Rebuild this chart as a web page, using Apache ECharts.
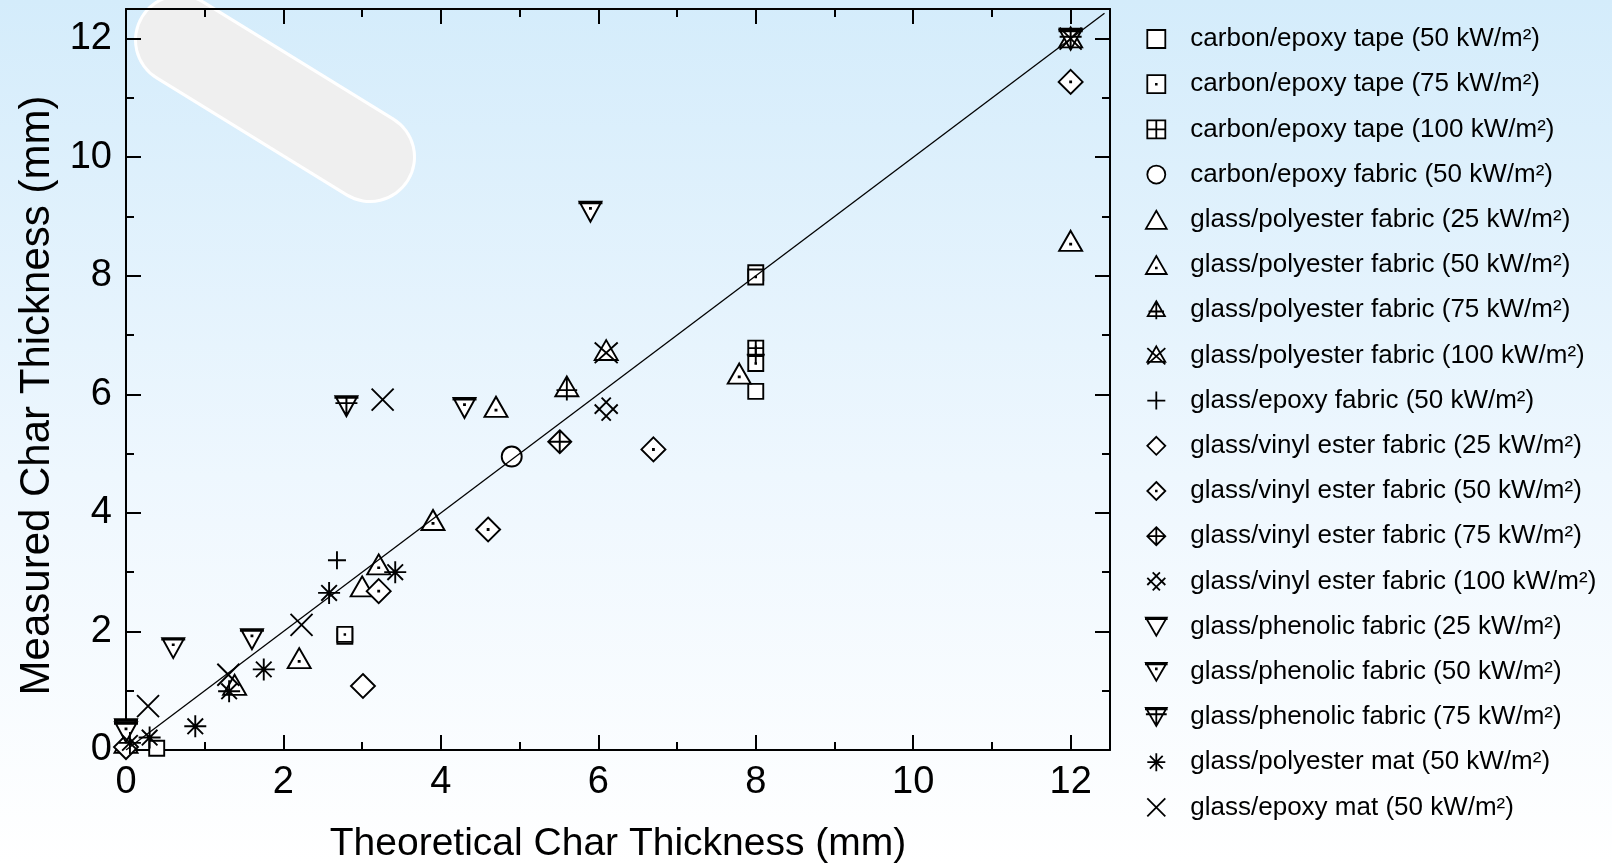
<!DOCTYPE html>
<html>
<head>
<meta charset="utf-8">
<script src="https://cdn.jsdelivr.net/npm/echarts@6/dist/echarts.min.js"></script>
<style>
  html, body { margin: 0; padding: 0; }
  #chart { width: 1612px; height: 864px; }
</style>
</head>
<body>
<div id="chart"></div>
<script>
// measured vs theoretical char thickness, [theoretical, measured] in mm
const tape50 = [[0.39, 0.03], [2.78, 1.92], [8, 8.05], [8, 6.05]];
const tape75 = [[8, 6.52], [8, 7.98], [2.78, 1.95]];
const tape100 = [[8, 6.78]];
const carbonFabric50 = [[4.9, 4.95]];
const gpFabric25 = [[3.0, 2.76], [1.38, 1.10], [12, 12.02], [0, 0.12]];
const gpFabric50 = [[3.21, 3.13], [2.2, 1.55], [4.7, 5.79], [3.9, 3.88], [7.79, 6.35], [12, 8.59]];
const gpFabric75 = [[5.6, 6.1]];
const gpFabric100 = [[6.1, 6.72]];
const geFabric50 = [[2.68, 3.2], [8, 6.67]];
const gvFabric25 = [[3.01, 1.08], [0, 0.05]];
const gvFabric50 = [[3.21, 2.68], [4.6, 3.72], [6.7, 5.07], [12, 11.27]];
const gvFabric75 = [[5.51, 5.2]];
const gvFabric100 = [[6.1, 5.75], [0, -0.05]];
const gphFabric25 = [[0, 0.35], [12, 12]];
const gphFabric50 = [[5.9, 9.08], [4.3, 5.77], [1.6, 1.87], [0.6, 1.72], [0, 0.3]];
const gphFabric75 = [[2.8, 5.8], [12, 11.98]];
const gpMat50 = [[3.42, 3.0], [2.58, 2.65], [1.75, 1.36], [1.31, 0.99], [0.88, 0.4], [0.3, 0.21], [0.05, 0.12]];
const geMat50 = [[3.26, 5.91], [2.23, 2.11], [1.3, 1.27], [0.28, 0.74], [0, -0.1], [12, 12]];
const identity = [[0, 0], [12.43, 12.43]];

const axisMax = 12.5;
const axisStep = 2;

// marker shapes
const SQ = 'M0,0L20,0L20,20L0,20Z';
const DOT = (x, y) => 'M' + (x - 0.4) + ',' + (y - 0.4) + 'L' + (x + 0.4) + ',' + (y - 0.4) + 'L' + (x + 0.4) + ',' + (y + 0.4) + 'L' + (x - 0.4) + ',' + (y + 0.4) + 'Z';
const TRI = 'M10,0L20,17.3L0,17.3Z';
const ITRI = 'M0,0L20,0L10,17.3Z M0,0L20,0L20,1.4L0,1.4Z';
const DIA = 'M10,0L20,10L10,20L0,10Z';
const sym = {
    square: 'path://' + SQ,
    squareDot: 'path://' + SQ + ' ' + DOT(10, 10),
    squareCross: 'path://' + SQ + ' M10,0L10,20 M0,10L20,10',
    circle: 'path://M0,10A10,10 0 1,1 20,10A10,10 0 1,1 0,10Z',
    tri: 'path://' + TRI,
    triDot: 'path://' + TRI + ' ' + DOT(10, 11.5),
    triCross: 'path://' + TRI + ' M10,0L10,21 M1,12L19,12',
    triX: 'path://M10,0L20,17.3L0,17.3Z M0,2L20,20 M20,2L0,20',
    plus: 'path://M10,0L10,20 M0,10L20,10',
    dia: 'path://' + DIA,
    diaDot: 'path://' + DIA + ' ' + DOT(10, 10),
    diaCross: 'path://' + DIA + ' M10,0L10,20 M0,10L20,10',
    diaHatch: 'path://M0,6L14,20 M6,0L20,14 M0,14L14,0 M6,20L20,6',
    itri: 'path://' + ITRI,
    itriDot: 'path://' + ITRI + ' ' + DOT(10, 5.8),
    itriCross: 'path://' + ITRI + ' M10,0L10,17.3 M0,6L20,6',
    star: 'path://M10,0L10,20 M0,10L20,10 M2.9,2.9L17.1,17.1 M17.1,2.9L2.9,17.1',
    cross: 'path://M0,0L20,20 M20,0L0,20'
};

const groups = [
    ['carbon/epoxy tape (50 kW/m²)', tape50, sym.square, 15],
    ['carbon/epoxy tape (75 kW/m²)', tape75, sym.squareDot, 15],
    ['carbon/epoxy tape (100 kW/m²)', tape100, sym.squareCross, 15],
    ['carbon/epoxy fabric (50 kW/m²)', carbonFabric50, sym.circle, 20],
    ['glass/polyester fabric (25 kW/m²)', gpFabric25, sym.tri, [23, 20]],
    ['glass/polyester fabric (50 kW/m²)', gpFabric50, sym.triDot, [23, 20]],
    ['glass/polyester fabric (75 kW/m²)', gpFabric75, sym.triCross, [23, 24]],
    ['glass/polyester fabric (100 kW/m²)', gpFabric100, sym.triX, [23, 23]],
    ['glass/epoxy fabric (50 kW/m²)', geFabric50, sym.plus, 18],
    ['glass/vinyl ester fabric (25 kW/m²)', gvFabric25, sym.dia, 24],
    ['glass/vinyl ester fabric (50 kW/m²)', gvFabric50, sym.diaDot, 24],
    ['glass/vinyl ester fabric (75 kW/m²)', gvFabric75, sym.diaCross, 23],
    ['glass/vinyl ester fabric (100 kW/m²)', gvFabric100, sym.diaHatch, 23],
    ['glass/phenolic fabric (25 kW/m²)', gphFabric25, sym.itri, [22, 20]],
    ['glass/phenolic fabric (50 kW/m²)', gphFabric50, sym.itriDot, [22, 20]],
    ['glass/phenolic fabric (75 kW/m²)', gphFabric75, sym.itriCross, [22, 20]],
    ['glass/polyester mat (50 kW/m²)', gpMat50, sym.star, 22],
    ['glass/epoxy mat (50 kW/m²)', geMat50, sym.cross, 22]
];

const font = 'Arial, "Liberation Sans", sans-serif';

function makeAxis(pos, main, name) {
    return {
        type: 'value',
        position: pos,
        min: 0,
        max: axisMax,
        interval: axisStep,
        name: main ? name : '',
        nameLocation: 'middle',
        nameGap: pos === 'bottom' ? 75 : 68,
        nameTextStyle: {
            fontFamily: font, fontSize: pos === 'left' ? 42 : 39, color: '#000',
            padding: pos === 'left' ? [0, 32, 0, 0] : 0
        },
        axisLine: { show: true, onZero: false, lineStyle: { color: '#000', width: 2 } },
        axisTick: { show: true, inside: true, length: 15, lineStyle: { color: '#000', width: 2 } },
        minorTick: { show: true, splitNumber: 2, length: 8, lineStyle: { color: '#000', width: 2 } },
        axisLabel: {
            show: main,
            margin: 14,
            fontFamily: font,
            fontSize: 38,
            color: '#000',
            formatter: v => (v % axisStep === 0 ? String(v) : '')
        },
        splitLine: { show: false },
        minorSplitLine: { show: false }
    };
}

let series = groups.map(g => ({
    name: g[0],
    type: 'scatter',
    data: g[1],
    symbol: g[2],
    symbolSize: g[3],
    xAxisIndex: 0,
    yAxisIndex: 0,
    z: 2,
    itemStyle: { color: '#fff', borderColor: '#000', borderWidth: 1.9, opacity: 1 },
    emphasis: { disabled: true }
}));
series.push({
    name: 'identity',
    type: 'line',
    data: identity,
    showSymbol: false,
    z: 3,
    lineStyle: { color: '#000', width: 1.3 },
    emphasis: { disabled: true }
});

let chart = echarts.init(document.getElementById('chart'));
chart.setOption({
    animation: false,
    backgroundColor: {
        type: 'linear', x: 0, y: 0, x2: 0, y2: 1,
        colorStops: [
            { offset: 0, color: '#d4ecfb' },
            { offset: 0.55, color: '#eef7fe' },
            { offset: 1, color: '#ffffff' }
        ]
    },
    grid: { left: 126, right: 502, top: 9, bottom: 114, containLabel: false, outerBoundsMode: 'none' },
    xAxis: [makeAxis('bottom', true, 'Theoretical Char Thickness (mm)'), makeAxis('top', false)],
    yAxis: [makeAxis('left', true, 'Measured Char Thickness (mm)'), makeAxis('right', false)],
    legend: {
        orient: 'vertical',
        left: 1140,
        top: 21,
        itemWidth: 58,
        itemHeight: 18,
        itemGap: 19.2,
        data: groups.map(g => g[0]),
        itemStyle: { color: '#fff', borderColor: '#000', borderWidth: 1.8 },
        textStyle: { fontFamily: font, fontSize: 26, lineHeight: 26, color: '#000' }
    },
    graphic: [
        {
            type: 'line', z: -10, silent: true,
            shape: { x1: 180, y1: 40, x2: 370, y2: 157 },
            style: { stroke: '#ffffff', lineWidth: 92, lineCap: 'round' }
        },
        {
            type: 'line', z: -9, silent: true,
            shape: { x1: 180, y1: 40, x2: 370, y2: 157 },
            style: { stroke: '#efefef', lineWidth: 86, lineCap: 'round' }
        }
    ],
    series: series
});
window.addEventListener('resize', () => chart.resize());
</script>
</body>
</html>
